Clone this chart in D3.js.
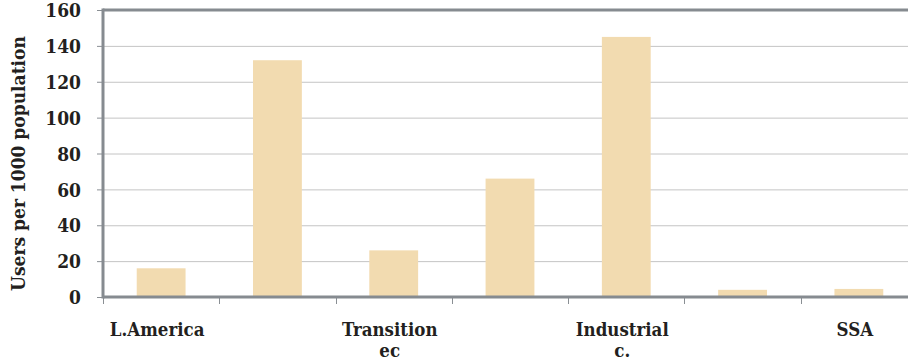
<!DOCTYPE html>
<html>
<head>
<meta charset="utf-8">
<script src="https://cdn.jsdelivr.net/npm/d3@7"></script>
<style>
  body { margin: 0; background: #fff; }
</style>
</head>
<body>
<div id="chart"></div>
<script>
// chart data
var categories = ["L.America", "c2", "Transition ec", "c4", "Industrial c.", "c6", "SSA"];
var tickLabels = [["L.America"], [], ["Transition", "ec"], [], ["Industrial", "c."], [], ["SSA"]];
var values = [16, 132, 26, 66, 145, 4, 4.5];
var yTicks = [0, 20, 40, 60, 80, 100, 120, 140, 160];

var width = 908, height = 361;
var margin = { top: 10, right: -9, bottom: 64, left: 103 };
var FONT = "'DejaVu Serif Condensed', 'DejaVu Serif', serif";

var svg = d3.select("#chart").append("svg")
  .attr("width", width)
  .attr("height", height);

var x = d3.scaleBand()
  .domain(categories)
  .range([margin.left, width - margin.right])
  .paddingInner(0.58)
  .paddingOuter(0.29);

var y = d3.scaleLinear()
  .domain([0, 160])
  .range([height - margin.bottom, margin.top]);

// gridlines
svg.append("g")
  .selectAll("line")
  .data(yTicks.slice(1, -1))
  .enter().append("line")
  .attr("x1", margin.left)
  .attr("x2", width)
  .attr("y1", function (d) { return y(d) + 0.5; })
  .attr("y2", function (d) { return y(d) + 0.5; })
  .style("stroke", "#c4c4c4")
  .style("stroke-width", 1);

// bars
svg.append("g")
  .selectAll("rect")
  .data(values)
  .enter().append("rect")
  .attr("x", function (d, i) { return x(categories[i]); })
  .attr("width", x.bandwidth())
  .attr("y", function (d) { return y(d); })
  .attr("height", function (d) { return y(0) - y(d); })
  .style("fill", "#f2dbb0");

// y axis
var yAxis = svg.append("g")
  .attr("transform", "translate(" + margin.left + ",0)")
  .call(d3.axisLeft(y).tickValues(yTicks).tickSize(6).tickPadding(16));
yAxis.attr("font-family", null).attr("font-size", null);
yAxis.select(".domain").remove();
yAxis.selectAll(".tick line").style("stroke", "#8a8f94");
yAxis.selectAll(".tick text")
  .style("font-family", FONT)
  .style("font-weight", "bold")
  .style("font-size", "19px")
  .style("fill", "#231f20")
  .attr("dy", "0.35em");

// x axis ticks at band boundaries
var step = x.step();
var bounds = categories.map(function (c) { return x(c) - x.paddingOuter() * step; });
svg.append("g")
  .selectAll("line")
  .data(bounds)
  .enter().append("line")
  .attr("x1", function (d) { return Math.round(d) + 0.5; })
  .attr("x2", function (d) { return Math.round(d) + 0.5; })
  .attr("y1", y(0))
  .attr("y2", y(0) + 7)
  .style("stroke", "#8a8f94")
  .style("stroke-width", 1);

// frame lines
svg.append("line")
  .attr("x1", margin.left).attr("x2", width)
  .attr("y1", y(0)).attr("y2", y(0))
  .style("stroke", "#868b90").style("stroke-width", 3);
svg.append("line")
  .attr("x1", margin.left).attr("x2", width)
  .attr("y1", y(160)).attr("y2", y(160))
  .style("stroke", "#868b90").style("stroke-width", 3);
svg.append("line")
  .attr("x1", margin.left).attr("x2", margin.left)
  .attr("y1", y(160) - 1.5).attr("y2", y(0) + 1.5)
  .style("stroke", "#868b90").style("stroke-width", 3);

// category labels (one text per line)
tickLabels.forEach(function (lines, i) {
  svg.append("g")
    .selectAll("text")
    .data(lines)
    .enter().append("text")
    .attr("x", x(categories[i]) + x.bandwidth() / 2 - 4)
    .attr("y", function (d, j) { return 336 + j * 21; })
    .attr("text-anchor", "middle")
    .style("font-family", FONT)
    .style("font-weight", "bold")
    .style("font-size", "18.5px")
    .style("fill", "#231f20")
    .text(function (d) { return d; });
});

// y axis title
svg.append("text")
  .attr("transform", "translate(25," + ((y(0) + y(160)) / 2 + 10) + ") rotate(-90)")
  .attr("text-anchor", "middle")
  .style("font-family", FONT)
  .style("font-weight", "bold")
  .style("font-size", "19px")
  .style("fill", "#231f20")
  .text("Users per 1000 population");
</script>
</body>
</html>
